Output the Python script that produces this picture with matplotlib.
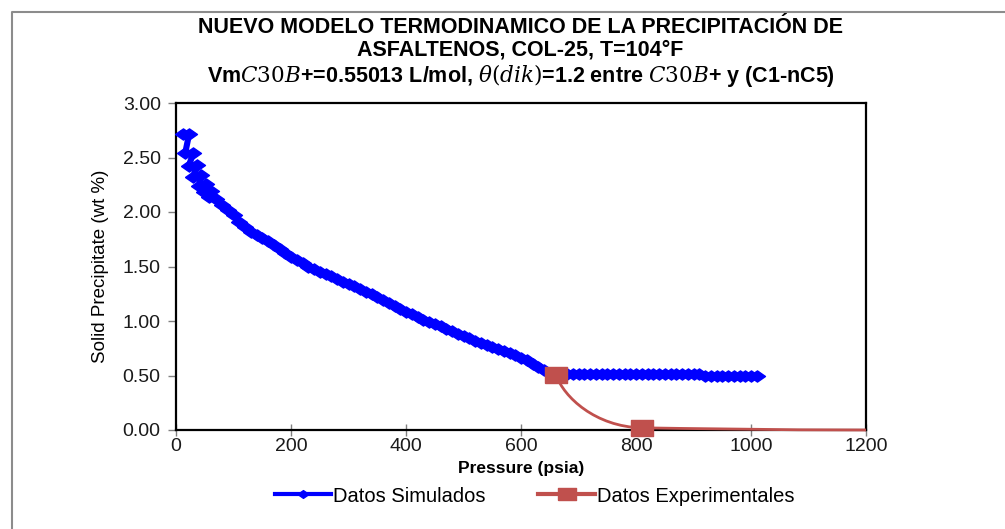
import matplotlib
matplotlib.use("Agg")
import matplotlib.pyplot as plt
from matplotlib.path import Path
from matplotlib.patches import PathPatch
from matplotlib.lines import Line2D

plt.rcParams['font.family'] = ['Liberation Sans', 'DejaVu Sans']
plt.rcParams['mathtext.fontset'] = 'dejavuserif'

# ---------------- data ----------------
sim_pressure = [13, 23, 16, 30, 22, 36, 30, 44, 40, 52, 48, 60, 58,
                70, 80, 90, 100, 110, 120, 130, 140, 150, 160, 170, 180, 190,
                200, 210, 220, 230, 240, 250, 260, 270, 280, 290,
                300, 310, 320, 330, 340, 350, 360, 370, 380, 390,
                400, 410, 420, 430, 440, 450, 460, 470, 480, 490,
                500, 510, 520, 530, 540, 550, 560, 570, 580, 590,
                600, 610, 620, 630, 640, 650, 660,
                670, 680, 690, 700, 710, 720, 730, 740, 750, 760, 770, 780,
                790, 800, 810, 820, 830, 840, 850, 860, 870, 880, 890, 900,
                910, 920, 930, 940, 950, 960, 970, 980, 990, 1000, 1010]
sim_solid = [2.72, 2.72, 2.54, 2.54, 2.42, 2.43, 2.32, 2.34, 2.24, 2.26, 2.18, 2.19, 2.14,
             2.12, 2.06, 2.02, 1.97, 1.91, 1.86, 1.82, 1.79, 1.76, 1.73, 1.70, 1.66, 1.62,
             1.59, 1.56, 1.53, 1.50, 1.475, 1.45, 1.43, 1.41, 1.385, 1.36,
             1.34, 1.32, 1.295, 1.27, 1.245, 1.22, 1.19, 1.165, 1.14, 1.11,
             1.085, 1.06, 1.035, 1.01, 0.99, 0.975, 0.955, 0.93, 0.91, 0.885,
             0.865, 0.84, 0.82, 0.80, 0.78, 0.765, 0.745, 0.725, 0.705, 0.685,
             0.665, 0.64, 0.61, 0.58, 0.55, 0.525, 0.505,
             0.51, 0.51, 0.51, 0.51, 0.51, 0.51, 0.51, 0.51, 0.51, 0.51, 0.51, 0.51,
             0.51, 0.51, 0.51, 0.51, 0.51, 0.51, 0.51, 0.51, 0.51, 0.51, 0.51, 0.51,
             0.51, 0.497, 0.497, 0.497, 0.497, 0.497, 0.497, 0.497, 0.497, 0.497, 0.497]

exp_pressure = [661, 810, 1200]
exp_solid = [0.505, 0.02, 0.0]

x_ticks = [0, 200, 400, 600, 800, 1000, 1200]
y_ticks = [0.0, 0.5, 1.0, 1.5, 2.0, 2.5, 3.0]

title_lines = ["NUEVO MODELO TERMODINAMICO DE LA PRECIPITACIÓN DE",
               "ASFALTENOS, COL-25, T=104°F",
               r"Vm$C30B$+=0.55013 L/mol, $\theta(dik)$=1.2 entre $C30B$+ y (C1-nC5)"]

BLUE = '#0000FF'
RED = '#C0504D'

# ---------------- figure ----------------
fig = plt.figure(figsize=(10.05, 5.29), dpi=100)
fig.patch.set_facecolor('white')
ax = fig.add_axes([176 / 1005, 1 - 430 / 529, 690 / 1005, 327 / 529])

# outer chart border (left and top edges visible)
fig.add_artist(Line2D([12 / 1005, 12 / 1005, 1.0], [0.0, 1 - 12 / 529, 1 - 12 / 529],
                      transform=fig.transFigure, color='#8c8c8c', lw=1.5))

diamond = [(-1, 0), (0, 0.7), (1, 0), (0, -0.7), (-1, 0)]
rect_marker = [(-1, -0.68), (1, -0.68), (1, 0.68), (-1, 0.68), (-1, -0.68)]

# simulated series
ax.plot(sim_pressure, sim_solid, color=BLUE, lw=4.4, marker=diamond,
        markersize=11.5, markerfacecolor=BLUE, markeredgecolor=BLUE,
        markeredgewidth=1.0, zorder=3, clip_on=False)

# experimental series: smoothed line (cubic Bezier built from data points)
x0, x1, x2 = exp_pressure
y0, y1, y2 = exp_solid
verts = [(x0, y0),
         (x0 + 0.09 * (x1 - x0), y0 + 0.42 * (y1 - y0)),
         (x1 - 0.54 * (x1 - x0), y1 + 0.02 * (y0 - y1)),
         (x1, y1),
         (x1 + 0.2 * (x2 - x1), y1 - 0.3 * (y1 - y2)),
         (x2 - 0.4 * (x2 - x1), y2),
         (x2, y2)]
codes = [Path.MOVETO, Path.CURVE4, Path.CURVE4, Path.CURVE4,
         Path.CURVE4, Path.CURVE4, Path.CURVE4]
ax.add_patch(PathPatch(Path(verts, codes), facecolor='none', edgecolor=RED,
                       lw=2.0, zorder=4, clip_on=False))
ax.plot(exp_pressure[:2], exp_solid[:2], linestyle='none', marker=rect_marker,
        markersize=16.5, markerfacecolor=RED, markeredgecolor=RED, zorder=5,
        clip_on=False)

ax.set_xlim(0, 1200)
ax.set_ylim(0, 3.0)
ax.set_xticks(x_ticks)
ax.set_xticklabels([str(v) for v in x_ticks])
ax.set_yticks(y_ticks)
ax.set_yticklabels([f"{v:.2f}" for v in y_ticks])
ax.tick_params(axis='y', direction='out', length=6, width=1, color='#808080',
               labelsize=14, pad=5, labelcolor='#1a1a1a')
ax.tick_params(axis='x', direction='inout', length=8, width=1, color='#808080',
               labelsize=14, pad=2, labelcolor='#1a1a1a')
for s in ax.spines.values():
    s.set_color('black')
    s.set_linewidth(1.6)

ax.set_xlabel("Pressure (psia)", fontsize=12.5, fontweight='bold', labelpad=4)
ax.set_ylabel("Solid Precipitate (wt %)", fontsize=13.5, labelpad=10)

fig.text(0.518, 1 - 53 / 529, "\n".join(title_lines), ha='center', va='center',
         fontsize=15.5, fontweight='bold', linespacing=1.06)

handles = [Line2D([], [], color=BLUE, lw=3, marker=diamond, markersize=8,
                  markerfacecolor=BLUE, markeredgecolor=BLUE),
           Line2D([], [], color=RED, lw=3, marker=rect_marker, markersize=13,
                  markerfacecolor=RED, markeredgecolor=RED)]
fig.legend(handles, ["Datos Simulados", "Datos Experimentales"],
           loc='center', bbox_to_anchor=(0.532, 1 - 496 / 529), ncol=2,
           frameon=False, fontsize=14.5, handlelength=2.8, handletextpad=0.1,
           columnspacing=2.6)

fig.savefig("out.png", dpi=100, facecolor='white')
